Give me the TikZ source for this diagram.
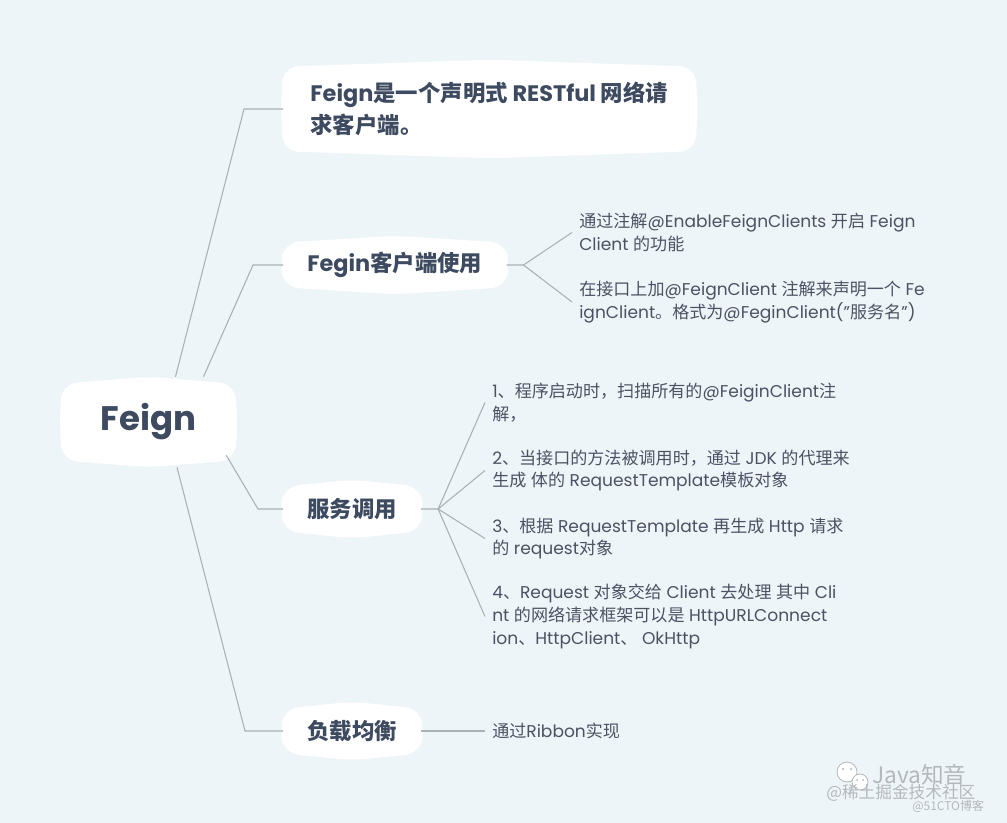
\documentclass[tikz,border=0pt]{standalone}
\usepackage{fontspec}
\usetikzlibrary{calc}
\setmainfont{Poppins}
\newfontfamily\cjk{Noto Sans CJK SC}
\XeTeXinterchartokenstate=1
\newXeTeXintercharclass\CJKcls
\makeatletter
\count@="3000
\loop
  \XeTeXcharclass\count@=\CJKcls
  \ifnum\count@<"9FFF \advance\count@ by 1 \repeat
\count@="FF00
\loop
  \XeTeXcharclass\count@=\CJKcls
  \ifnum\count@<"FFEF \advance\count@ by 1 \repeat
\makeatother
\XeTeXinterchartoks 0 \CJKcls = {\begingroup\cjk}
\XeTeXinterchartoks 4095 \CJKcls = {\begingroup\cjk}
\XeTeXinterchartoks \CJKcls 0 = {\endgroup}
\XeTeXinterchartoks \CJKcls 4095 = {\endgroup}
\definecolor{bgc}{HTML}{EEF5F9}
\definecolor{headc}{HTML}{3D4A60}
\definecolor{bodyc}{HTML}{4C5262}
\definecolor{linec}{HTML}{AAB0B6}
\definecolor{wmc}{HTML}{B4B8BC}
\pgfdeclarelayer{background}
\pgfsetlayers{background,main}
\newcommand\cushion[1]{%
  \fill[white, rounded corners=12pt]
    ($(#1.north west)+(0,7)$) -- (#1.north) -- ($(#1.north east)+(0,7)$) --
    ($(#1.east)+(2,0)$) --
    ($(#1.south east)+(0,-7)$) -- (#1.south) -- ($(#1.south west)+(0,-7)$) --
    ($(#1.west)+(-2,0)$) -- cycle;}
\tikzset{
  head/.style={anchor=west, inner xsep=18pt, inner ysep=0pt, minimum height=43.5pt,
    align=left, font=\fontsize{16.8pt}{24pt}\selectfont\bfseries, text=headc},
  leaf/.style={anchor=west, inner xsep=5.25pt, inner ysep=0pt, align=left,
    font=\fontsize{12.8pt}{16.9pt}\selectfont, text=bodyc},
  link/.style={draw=linec, line width=0.8pt},
  wmark/.style={inner sep=0pt, anchor=west, text=wmc},
}
\begin{document}
\begin{tikzpicture}[x=0.75pt,y=-0.75pt]
\begin{pgfonlayer}{background}
  \fill[bgc] (0,0) rectangle (1007,823);
\end{pgfonlayer}
\useasboundingbox (0,0) rectangle (1007,823);

% main nodes
\node[inner sep=0pt, minimum width=129.75pt, minimum height=67.5pt,
      font=\fontsize{25.5pt}{30pt}\selectfont\bfseries, text=headc] (root) at (148.5,422) {Feign};
\node[head, minimum height=73.5pt, minimum width=309pt] (title) at (283,109)
  {Feign是一个声明式 RESTful 网络请\\求客户端。};
\node[head] (fegin) at (283,265) {Fegin客户端使用};
\node[head] (fuwu) at (283,509) {服务调用};
\node[head] (fuzai) at (283,731) {负载均衡};

% leaves
\node[leaf] (c1) at (572,232.5) {通过注解@EnableFeignClients 开启 Feign\\Client 的功能};
\node[leaf] (c2) at (572,302) {在接口上加@FeignClient 注解来声明一个 Fe\\ignClient。格式为@FeginClient("服务名")};
\node[leaf] (s1) at (485,402.5) {1、程序启动时，扫描所有的@FeiginClient注\\解，};
\node[leaf] (s2) at (485,470.5) {2、当接口的方法被调用时，通过 JDK 的代理来\\生成 体的 RequestTemplate模板对象};
\node[leaf] (s3) at (485,538.5) {3、根据 RequestTemplate 再生成 Http 请求\\的 request对象};
\node[leaf] (s4) at (485,616.5) {4、Request 对象交给 Client 去处理 其中 Cli\\nt 的网络请求框架可以是 HttpURLConnect\\ion、HttpClient、 OkHttp};
\node[leaf] (r1) at (485,731) {通过Ribbon实现};

% cushions
\begin{pgfonlayer}{background}
  \cushion{root}
  \cushion{title}
  \cushion{fegin}
  \cushion{fuwu}
  \cushion{fuzai}
\end{pgfonlayer}

% connectors from root
\coordinate (e1) at (244,111);
\coordinate (e2) at (253,265);
\coordinate (e3) at (258,509);
\coordinate (e4) at (245,731);
\draw[link] ($(root.north)+(27,0)$) -- (e1 |- title.west) -- (title.west);
\draw[link] ($(root.north)+(55,0)$) -- (e2 |- fegin.west) -- (fegin.west);
\draw[link] ($(root.south east)+(-9,-12)$) -- (e3 |- fuwu.west) -- (fuwu.west);
\draw[link] ($(root.south)+(28.5,0)$) -- (e4 |- fuzai.west) -- (fuzai.west);

% fans
\coordinate (f1) at ($(fegin.east)+(17,0)$);
\draw[link] (fegin.east) -- (f1) -- (c1.west);
\draw[link] (f1) -- (c2.west);
\coordinate (f2) at ($(fuwu.east)+(17,0)$);
\draw[link] (fuwu.east) -- (f2) -- (s1.west);
\draw[link] (f2) -- (s2.west);
\draw[link] (f2) -- (s3.west);
\draw[link] (f2) -- (s4.west);
\draw[link] (fuzai.east) -- (r1.west);

% watermark
\begin{scope}[draw=wmc, line width=0.6pt]
  \filldraw[fill=white] (847,772) circle (10);
  \filldraw[fill=white] (860,782) circle (8);
  \fill[wmc] (843,769) circle (1.2) (851,769) circle (1.2) (857,780) circle (1) (863,780) circle (1);
\end{scope}
\node[wmark, font=\cjk\fontsize{17pt}{18pt}\selectfont] (wm1) at (872,775) {Java知音};
\node[wmark, font=\cjk\fontsize{12.5pt}{14pt}\selectfont] (wm2) at (826,793) {@稀土掘金技术社区};
\node[wmark, font=\cjk\fontsize{9pt}{10pt}\selectfont] (wm3) at (912,806) {@51CTO博客};
\end{tikzpicture}
\end{document}
